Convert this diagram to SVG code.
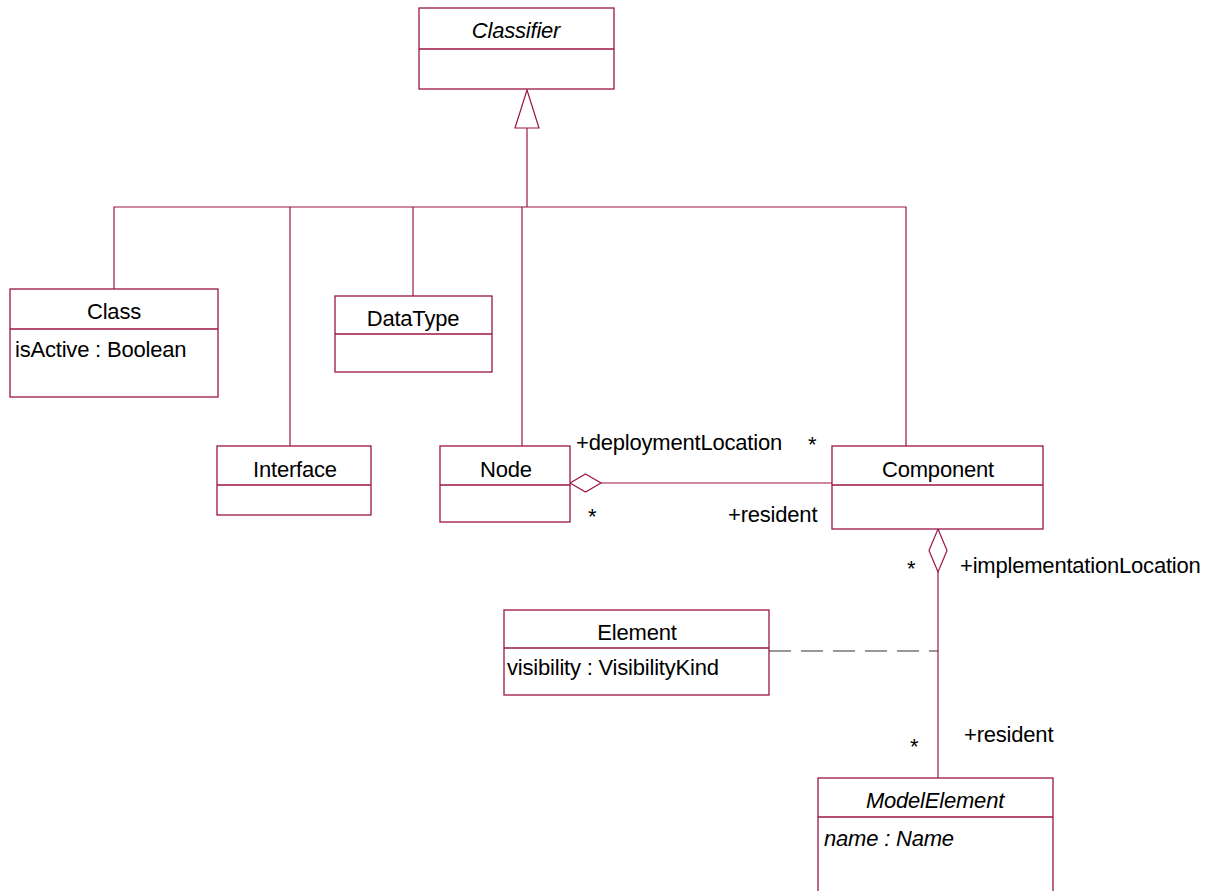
<svg xmlns="http://www.w3.org/2000/svg" width="1220" height="891" viewBox="0 0 1220 891">
<style>
.box{fill:#fff;stroke:#9b1548;stroke-width:1.3}
.div{stroke:#9b1548;stroke-width:1.3}
.ln{fill:none;stroke:#9b1548;stroke-width:1.2}
.dash{fill:none;stroke:#333;stroke-width:1.2;stroke-dasharray:22 10}
text{font-family:"Liberation Sans",Arial,sans-serif;font-size:22px;fill:#000;letter-spacing:-0.2px}
.c{text-anchor:middle}
.i{font-style:italic}
</style>
<g id="connectors">
<polyline class="ln" points="527,128 527,207"/>
<polyline class="ln" points="114,289 114,207 906,207 906,446"/>
<line class="ln" x1="290" y1="207" x2="290" y2="446"/>
<line class="ln" x1="413" y1="207" x2="413" y2="296"/>
<line class="ln" x1="522" y1="207" x2="522" y2="446"/>
<polygon class="ln" points="527,90 539,128 515,128"/>
<line class="ln" x1="601" y1="483" x2="832" y2="483"/>
<polygon class="ln" points="570,483 585.5,474 601,483 585.5,492"/>
<line class="ln" x1="938" y1="572" x2="938" y2="778"/>
<polygon class="ln" points="938,529 947,550.5 938,572 929,550.5"/>
<line class="dash" x1="769" y1="651" x2="938" y2="651"/>
<text x="576" y="450">+deploymentLocation</text>
<text x="808" y="452">*</text>
<text x="588" y="524">*</text>
<text x="728" y="522">+resident</text>
<text x="907" y="576">*</text>
<text x="960" y="573">+implementationLocation</text>
<text x="910" y="754">*</text>
<text x="964" y="742">+resident</text>
</g>
<g id="Classifier">
<rect class="box" x="419" y="8" width="195" height="81"/>
<line class="div" x1="419" y1="49" x2="614" y2="49"/>
<text class="c i" x="516" y="38">Classifier</text>
</g>
<g id="Class">
<rect class="box" x="10" y="289" width="208" height="108"/>
<line class="div" x1="10" y1="329" x2="218" y2="329"/>
<text class="c" x="114" y="319">Class</text>
<text x="15" y="357">isActive : Boolean</text>
</g>
<g id="DataType">
<rect class="box" x="335" y="296" width="157" height="76"/>
<line class="div" x1="335" y1="334" x2="492" y2="334"/>
<text class="c" x="413" y="326">DataType</text>
</g>
<g id="Interface">
<rect class="box" x="217" y="446" width="154" height="69"/>
<line class="div" x1="217" y1="485" x2="371" y2="485"/>
<text class="c" x="295" y="477">Interface</text>
</g>
<g id="Node">
<rect class="box" x="440" y="446" width="130" height="76"/>
<line class="div" x1="440" y1="485" x2="570" y2="485"/>
<text class="c" x="506" y="477">Node</text>
</g>
<g id="Component">
<rect class="box" x="832" y="446" width="211" height="83"/>
<line class="div" x1="832" y1="485" x2="1043" y2="485"/>
<text class="c" x="938" y="477">Component</text>
</g>
<g id="Element">
<rect class="box" x="504" y="610" width="265" height="85"/>
<line class="div" x1="504" y1="648" x2="769" y2="648"/>
<text class="c" x="637" y="640">Element</text>
<text x="507" y="675">visibility : VisibilityKind</text>
</g>
<g id="ModelElement">
<rect class="box" x="818" y="778" width="235" height="130"/>
<line class="div" x1="818" y1="817" x2="1053" y2="817"/>
<text class="c i" x="935" y="808">ModelElement</text>
<text class="i" x="824" y="846">name : Name</text>
</g>
</svg>
